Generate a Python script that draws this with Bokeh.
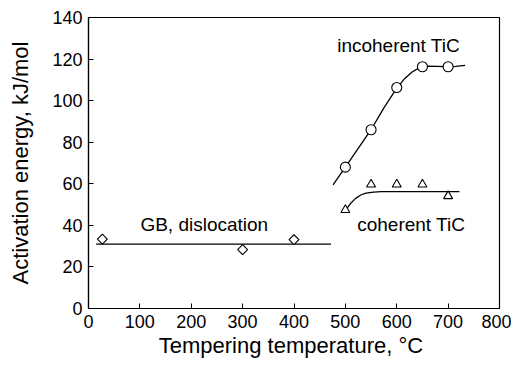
from bokeh.plotting import figure
from bokeh.embed import file_html
from bokeh.resources import INLINE
from bokeh.models import Range1d, FixedTicker, Label

# data
gb_x = [27, 300, 400]
gb_y = [33.4, 28.3, 33.1]
gb_line_x = [15, 472]
gb_line_y = [31, 31]

inc_x = [500, 550, 600, 650, 700]
inc_y = [68, 86, 106.3, 116.3, 116.3]
inc_curve_x = [476, 500, 525, 550, 575, 600, 615, 630, 645, 660, 680, 700, 715, 733]
inc_curve_y = [59.5, 68, 77, 86, 96.5, 106, 110.5, 113.8, 116, 116.6, 116.5, 116.3, 116.5, 117]

coh_x = [500, 550, 600, 650, 700]
coh_y = [47.4, 59.7, 59.7, 59.7, 54.1]
coh_curve_x = [500, 510, 520, 530, 540, 555, 570, 600, 650, 700, 722]
coh_curve_y = [47.2, 50.5, 53, 54.6, 55.5, 56, 56.2, 56.2, 56.2, 56.2, 56.2]

x_ticks = [0, 100, 200, 300, 400, 500, 600, 700, 800]
y_ticks = [0, 20, 40, 60, 80, 100, 120, 140]

FONT = "Liberation Sans"

p = figure(width=511, height=360, output_backend="svg", toolbar_location=None,
           x_range=Range1d(0, 800), y_range=Range1d(0, 140),
           min_border_left=88, min_border_right=12, min_border_top=17, min_border_bottom=50)
p.grid.visible = False
p.outline_line_color = "black"
p.outline_line_width = 1.2

for ax in (p.xaxis[0], p.yaxis[0]):
    ax.major_tick_in = 5
    ax.major_tick_out = 0
    ax.minor_tick_line_color = None
    ax.axis_line_color = "black"
    ax.axis_line_width = 1.2
    ax.major_label_text_font = FONT
    ax.major_label_text_font_size = "18px"
    ax.major_label_text_color = "black"
    ax.axis_label_text_font = FONT
    ax.axis_label_text_font_size = "22px"
    ax.axis_label_text_font_style = "normal"
    ax.axis_label_text_color = "black"

p.xaxis.ticker = FixedTicker(ticks=x_ticks)
p.yaxis.ticker = FixedTicker(ticks=y_ticks)
p.xaxis.axis_label = "Tempering temperature,  °C"
p.yaxis.axis_label = "Activation energy, kJ/mol"
p.xaxis.major_label_standoff = 6
p.xaxis.axis_label_standoff = 2
p.yaxis.major_label_standoff = 6
p.yaxis.axis_label_standoff = 16

p.line(gb_line_x, gb_line_y, line_color="black", line_width=1.3)
p.line(inc_curve_x, inc_curve_y, line_color="black", line_width=1.3)
p.line(coh_curve_x, coh_curve_y, line_color="black", line_width=1.3)

p.scatter(gb_x, gb_y, marker="square", angle=0.785398, size=7, fill_color="white", line_color="black", line_width=1.1)
p.scatter(inc_x, inc_y, marker="circle", size=10, fill_color="white", line_color="black", line_width=1.1)
p.scatter(coh_x, coh_y, marker="triangle", size=9, fill_color="white", line_color="black", line_width=1.1)

for txt, x, y in [("incoherent TiC", 484, 126.6), ("coherent TiC", 523, 40.5), ("GB, dislocation", 101, 40.5)]:
    p.add_layout(Label(x=x, y=y, text=txt, text_font=FONT, text_font_size="19px",
                       text_baseline="middle", text_color="black"))

open("out.html", "w").write(file_html(p, INLINE))
